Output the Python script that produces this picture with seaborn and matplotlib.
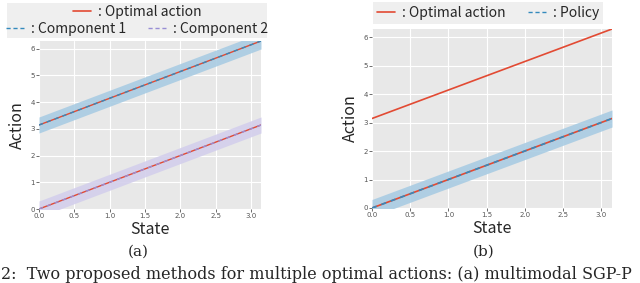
import numpy as np
import pandas as pd
import matplotlib
matplotlib.use("Agg")
import matplotlib.pyplot as plt
import seaborn as sns
from matplotlib.lines import Line2D
from matplotlib.patches import Rectangle

# ---- data ----
state = [0.0, 3.1416]
optimal_low = [0.0, 3.1416]
optimal_high = [3.1416, 6.2832]
component1 = [3.1416, 6.2832]
component2 = [0.0, 3.1416]
policy = [0.0, 3.1416]
band_half = 0.3
xticks = [0.0, 0.5, 1.0, 1.5, 2.0, 2.5, 3.0]
yticks = [0, 1, 2, 3, 4, 5, 6]

RED = "#E24A33"
BLUE = "#348ABD"
PURPLE = "#988ED5"
BAND_BLUE = "#a9cce3"
BAND_PURPLE = "#d3cfec"

sns.set_style("darkgrid", {"axes.facecolor": "#E8E8E8", "grid.color": "white"})
JP = ["Noto Sans CJK JP", "DejaVu Sans"]
plt.rcParams["font.family"] = JP

fig = plt.figure(figsize=(6.4, 2.83), dpi=100)
W, H = 640, 283
axL = fig.add_axes([39 / W, 1 - 209 / H, (261 - 39) / W, (209 - 41) / H])
axR = fig.add_axes([372 / W, 1 - 208 / H, (612 - 372) / W, (208 - 29) / H])

def df(y):
    return pd.DataFrame({"State": state, "Action": y})

# left panel
for y, c in [(component1, BAND_BLUE), (component2, BAND_PURPLE)]:
    axL.fill_between(state, np.array(y) - band_half, np.array(y) + band_half, color=c, lw=0, alpha=0.9)
sns.lineplot(data=df(optimal_low), x="State", y="Action", ax=axL, color=RED, lw=1.0)
sns.lineplot(data=df(optimal_high), x="State", y="Action", ax=axL, color=RED, lw=1.0)
sns.lineplot(data=df(component1), x="State", y="Action", ax=axL, color=BLUE, lw=1.0, linestyle=(0, (3, 3)))
sns.lineplot(data=df(component2), x="State", y="Action", ax=axL, color=PURPLE, lw=1.0, linestyle=(0, (3, 3)))

# right panel
axR.fill_between(state, np.array(policy) - band_half, np.array(policy) + band_half, color=BAND_BLUE, lw=0, alpha=0.9)
sns.lineplot(data=df(optimal_low), x="State", y="Action", ax=axR, color=RED, lw=1.2)
sns.lineplot(data=df(optimal_high), x="State", y="Action", ax=axR, color=RED, lw=1.2)
sns.lineplot(data=df(policy), x="State", y="Action", ax=axR, color=BLUE, lw=1.2, linestyle=(0, (3, 3)))

for ax in (axL, axR):
    ax.set_xlim(0, 3.1416)
    ax.set_ylim(0, 6.2832)
    ax.set_xticks(xticks)
    ax.set_xticklabels([f"{t:.1f}" for t in xticks])
    ax.set_yticks(yticks)
    ax.tick_params(axis="both", labelsize=5, colors="#555555", length=2, width=0.6, pad=1, left=True, bottom=True)
    for lab in ax.get_xticklabels() + ax.get_yticklabels():
        lab.set_family("DejaVu Sans")
    ax.set_xlabel("State", fontsize=11.5, labelpad=1)
    ax.set_ylabel("Action", fontsize=11.5, labelpad=3)
    for s in ax.spines.values():
        s.set_visible(False)

# legends
GRAY = "#efefef"
fig.patches.append(Rectangle((7 / W, 1 - 38 / H), 260 / W, 35 / H, transform=fig.transFigure,
                             facecolor=GRAY, edgecolor="none", zorder=0))
fig.patches.append(Rectangle((373 / W, 1 - 24 / H), 230 / W, 22 / H, transform=fig.transFigure,
                             facecolor=GRAY, edgecolor="none", zorder=0))

h_opt = Line2D([], [], color=RED, lw=1.2)
h_c1 = Line2D([], [], color=BLUE, lw=1.0, ls=(0, (3, 2)))
h_c2 = Line2D([], [], color=PURPLE, lw=1.0, ls=(0, (3, 2)))
leg_kw = dict(frameon=False, fontsize=10, handlelength=1.3, handletextpad=0.5,
              borderpad=0, labelspacing=0, columnspacing=1.6)
l1 = fig.legend([h_opt], [": Optimal action"], loc="center", bbox_to_anchor=(137 / W, 1 - 12 / H), **leg_kw)
l2 = fig.legend([h_c1, h_c2], [": Component 1", ": Component 2"], ncol=2, loc="center",
                bbox_to_anchor=(137 / W, 1 - 29 / H), **leg_kw)
l3 = fig.legend([h_opt, h_c1], [": Optimal action", ": Policy"], ncol=2, loc="center",
                bbox_to_anchor=(488 / W, 1 - 13 / H), **leg_kw)

fig.text(138 / W, 1 - 252 / H, "(a)", ha="center", va="center", fontsize=11, family="DejaVu Serif")
fig.text(484 / W, 1 - 252 / H, "(b)", ha="center", va="center", fontsize=11, family="DejaVu Serif")
fig.text(1 / W, 1 - 279 / H, "2:  Two proposed methods for multiple optimal actions: (a) multimodal SGP-P",
         ha="left", va="baseline", fontsize=11.5, family="DejaVu Serif")

fig.savefig("out.png", dpi=100)
